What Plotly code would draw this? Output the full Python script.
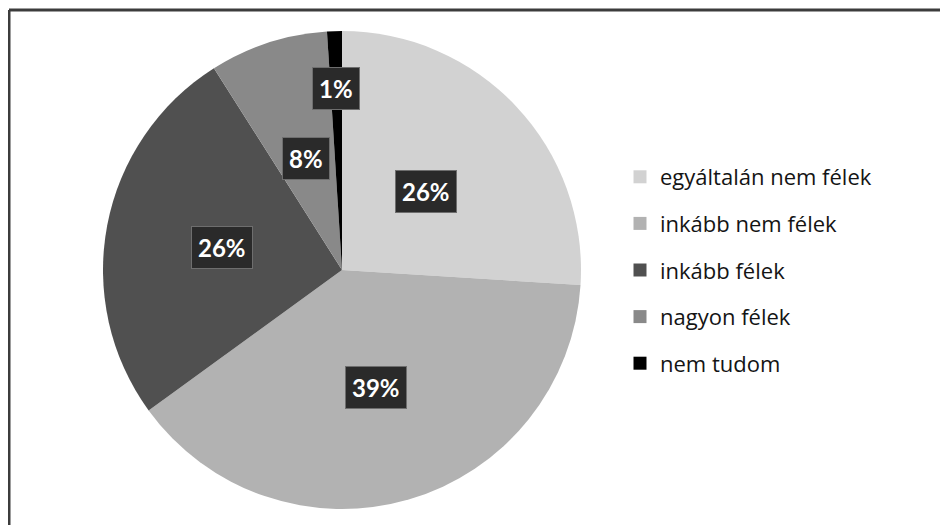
import math
import plotly.graph_objects as go

# ---- data ----
categories = ["egyáltalán nem félek", "inkább nem félek", "inkább félek", "nagyon félek", "nem tudom"]
values = [26, 39, 26, 8, 1]
pct_labels = ["26%", "39%", "26%", "8%", "1%"]

# ---- style ----
colors = ["#d2d2d2", "#b2b2b2", "#505050", "#898989", "#000000"]
label_radius = [0.48, 0.51, 0.51, 0.49, 0.76]   # fraction of pie radius for label boxes

W, H = 948, 525
OFF = 8  # page body margin offset in the screenshot
cx_px, cy_px, r_px = 342 - OFF, 270 - OFF, 239

dom_x = [(cx_px - r_px) / W, (cx_px + r_px) / W]
dom_y = [1 - (cy_px + r_px) / H, 1 - (cy_px - r_px) / H]

fig = go.Figure()
fig.add_trace(go.Pie(
    labels=categories,
    values=values,
    sort=False,
    direction="clockwise",
    rotation=0,
    marker=dict(colors=colors, line=dict(width=0)),
    textinfo="none",
    hoverinfo="skip",
    showlegend=False,
    domain=dict(x=dom_x, y=dom_y),
))

# legend entries (separate groups to allow the wide vertical spacing)
for i, (cat, col) in enumerate(zip(categories, colors)):
    fig.add_trace(go.Scatter(
        x=[None], y=[None], mode="markers", name=cat,
        marker=dict(symbol="square", size=13, color=col),
        legendgroup=f"g{i}", showlegend=True, hoverinfo="skip",
    ))

# label boxes at mid-angles of the slices
total = sum(values)
cum = 0
cx = (dom_x[0] + dom_x[1]) / 2
cy = (dom_y[0] + dom_y[1]) / 2
for v, txt, rf in zip(values, pct_labels, label_radius):
    mid = (cum + v / 2) / total * 2 * math.pi
    cum += v
    x = cx + rf * r_px * math.sin(mid) / W
    y = cy + rf * r_px * math.cos(mid) / H
    fig.add_annotation(
        x=x, y=y, xref="paper", yref="paper", text=f"<b>{txt}</b>",
        showarrow=False, font=dict(family="Lato", size=24, color="white"),
        bgcolor="#2a2a2a", bordercolor="#6e6e6e", borderwidth=1, borderpad=6,
        xanchor="center", yanchor="middle",
    )

# frame (left and top edges of the original chart border)
fx, fy = 9 - OFF, 10 - OFF
fig.add_shape(type="line", xref="paper", yref="paper", x0=fx / W, x1=fx / W, y0=-0.1, y1=1 - fy / H,
              line=dict(color="#3c3c3c", width=3))
fig.add_shape(type="line", xref="paper", yref="paper", x0=fx / W, x1=1.1, y0=1 - fy / H, y1=1 - fy / H,
              line=dict(color="#3c3c3c", width=3))

fig.update_layout(
    width=W, height=H,
    margin=dict(l=0, r=0, t=0, b=0),
    paper_bgcolor="white", plot_bgcolor="white",
    xaxis=dict(visible=False), yaxis=dict(visible=False),
    showlegend=True,
    legend=dict(
        x=612 / W, y=1 - 148 / H, xanchor="left", yanchor="top",
        font=dict(family="Open Sans", size=22, color="#141414"),
        tracegroupgap=15, bgcolor="rgba(0,0,0,0)", itemclick=False, itemdoubleclick=False,
    ),
)

fig.write_html("out.html")
